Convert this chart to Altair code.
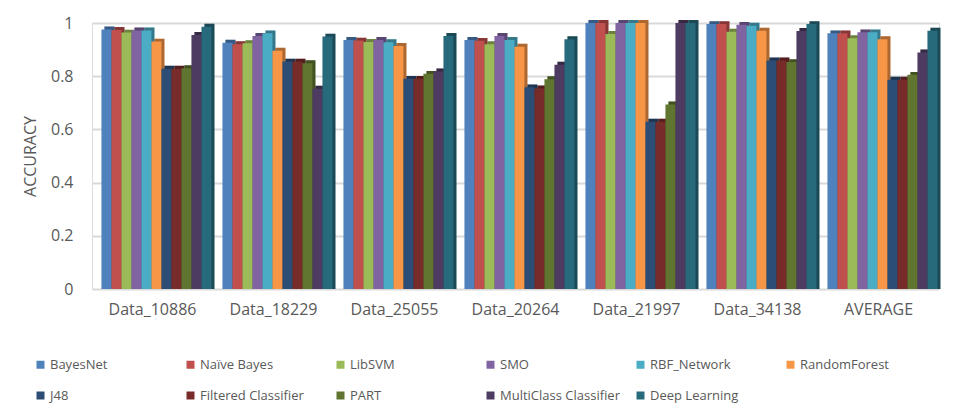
import altair as alt
import pandas as pd

datasets = ["Data_10886", "Data_18229", "Data_25055", "Data_20264", "Data_21997", "Data_34138", "AVERAGE"]
models = ["BayesNet", "Naïve Bayes", "LibSVM", "SMO", "RBF_Network", "RandomForest",
          "J48", "Filtered Classifier", "PART", "MultiClass Classifier", "Deep Learning"]
colors = ["#4F81BD", "#C0504D", "#9BBB59", "#8064A2", "#4BACC6", "#F79646",
          "#2C4D75", "#772C2A", "#5F7530", "#4D3B62", "#276A7C"]

# accuracy per model, one list per dataset (order of `models`)
acc_10886 = [0.976, 0.974, 0.964, 0.972, 0.972, 0.930, 0.828, 0.828, 0.830, 0.955, 0.986]
acc_18229 = [0.926, 0.920, 0.924, 0.951, 0.961, 0.896, 0.855, 0.855, 0.849, 0.753, 0.949]
acc_25055 = [0.936, 0.934, 0.929, 0.936, 0.928, 0.914, 0.790, 0.790, 0.809, 0.818, 0.951]
acc_20264 = [0.936, 0.933, 0.920, 0.951, 0.936, 0.911, 0.758, 0.754, 0.789, 0.843, 0.939]
acc_21997 = [1.000, 1.000, 0.959, 1.000, 1.000, 1.000, 0.629, 0.629, 0.694, 1.000, 1.000]
acc_34138 = [0.996, 0.996, 0.967, 0.993, 0.990, 0.971, 0.859, 0.859, 0.853, 0.970, 0.996]
acc_avg   = [0.961, 0.961, 0.943, 0.965, 0.965, 0.939, 0.787, 0.787, 0.805, 0.889, 0.971]

y_ticks = [0, 0.2, 0.4, 0.6, 0.8, 1]

rows = []
for ds, vals in zip(datasets, [acc_10886, acc_18229, acc_25055, acc_20264, acc_21997, acc_34138, acc_avg]):
    for m, v in zip(models, vals):
        rows.append({"dataset": ds, "model": m, "accuracy": v})
df = pd.DataFrame(rows)

FONT = "Open Sans"
GREY = "#595959"
DEPTH = 0.011  # visual depth of the pseudo-3D extrusion, in value units

x_enc = alt.X("dataset:N", sort=datasets, title=None,
              scale=alt.Scale(paddingInner=0.09, paddingOuter=0.045),
              axis=alt.Axis(labelAngle=0, labelFontSize=16, labelColor=GREY, labelFont=FONT,
                            labelPadding=12, domain=False, ticks=False))
y_axis = alt.Axis(values=y_ticks, labelExpr="datum.value == 0 ? '0' : format(datum.value, '.1~f')",
                  labelFontSize=16, labelColor=GREY, labelFont=FONT, labelPadding=19,
                  titleFontSize=16, titleColor=GREY, titleFont=FONT, titleFontWeight="normal",
                  titlePadding=12, domain=False, ticks=False,
                  gridColor="#d9d9d9", gridWidth=2)
y_scale = alt.Scale(domain=[0, 1], nice=False, clamp=False)
color_enc = alt.Color("model:N", sort=models,
                      scale=alt.Scale(domain=models, range=colors),
                      legend=alt.Legend(title=None, orient="none", legendX=-58, legendY=335,
                                        direction="horizontal", columns=6, gridAlign="all",
                                        symbolType="square", symbolSize=64, symbolStrokeWidth=0,
                                        labelFontSize=13, labelFont=FONT, labelColor=GREY,
                                        labelOffset=3, columnPadding=14, rowPadding=17,
                                        labelLimit=140))

base = alt.Chart(df)
back_offset = alt.XOffset("model:N", sort=models,
                          scale=alt.Scale(paddingInner=0, paddingOuter=0, range=[7, 117]))

side_full = base.transform_calculate(top="datum.accuracy + %f" % DEPTH).mark_bar().encode(
    x=x_enc,
    xOffset=back_offset,
    y=alt.Y("top:Q", title="ACCURACY", scale=y_scale, axis=y_axis),
    color=color_enc,
)
shade_full = base.transform_calculate(top="datum.accuracy + %f" % DEPTH).mark_bar(
    color="black", opacity=0.3).encode(
    x=x_enc,
    xOffset=back_offset,
    y=alt.Y("top:Q", title="ACCURACY", scale=y_scale, axis=y_axis),
)
front = base.mark_bar().encode(
    x=x_enc,
    xOffset=alt.XOffset("model:N", sort=models,
                        scale=alt.Scale(paddingInner=0, paddingOuter=0, range=[4, 114])),
    y=alt.Y("accuracy:Q", title="ACCURACY", scale=y_scale, axis=y_axis),
    color=color_enc,
)

chart = alt.layer(side_full, shade_full, front).resolve_scale(
    xOffset="independent"
).properties(
    width=847, height=266,
    autosize=alt.AutoSizeParams(type="none"),
    padding={"left": 84, "top": 15, "right": 6, "bottom": 120},
).configure_view(stroke=None).configure(background="white")

chart.save("out.html", embed_options={"renderer": "svg", "actions": False})
